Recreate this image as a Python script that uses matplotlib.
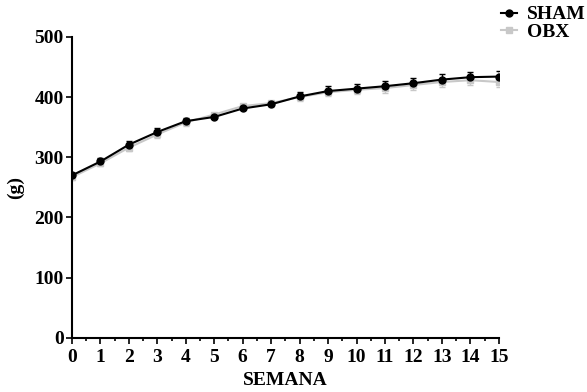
import numpy as np
import matplotlib
matplotlib.use('Agg')
from matplotlib import pyplot as plt
from matplotlib.lines import Line2D
from matplotlib.ticker import MultipleLocator

# body weight per week (mean and SEM)
weeks = np.arange(16)
sham_mean = [270, 293, 321, 342, 360, 367, 381, 388, 401, 410, 414, 418, 423, 429, 433, 434]
sham_sem = [4, 5, 6, 6, 6, 6, 6, 6, 7, 8, 8, 9, 9, 9, 9, 9]
obx_mean = [267, 290, 316, 338, 358, 371, 385, 390, 400, 408, 412, 415, 420, 425, 428, 425]
obx_sem = [4, 5, 6, 6, 6, 6, 6, 6, 7, 7, 7, 8, 8, 8, 8, 8]
y_ticks = [0, 100, 200, 300, 400, 500]

obx_color = '#c8c8c8'
font = {'family': 'Liberation Serif', 'weight': 'bold', 'size': 14}
plt.rcParams['font.family'] = ['Liberation Serif', 'DejaVu Serif']
plt.rcParams['font.weight'] = 'bold'

fig = plt.figure(figsize=(5.87, 3.92), dpi=100)
ax = fig.add_axes([0.1227, 0.138, 0.727, 0.768])

# OBX drawn first so SHAM sits on top
ax.errorbar(weeks, obx_mean, yerr=[obx_sem, np.zeros(len(obx_sem))], color=obx_color,
            marker='s', markersize=4.5, linewidth=1.5, capsize=2, elinewidth=1)
ax.errorbar(weeks, sham_mean, yerr=[np.zeros(len(sham_sem)), sham_sem], color='black',
            marker='o', markersize=5, linewidth=1.5, capsize=2, elinewidth=1)

ax.set_xlim(0, 15)
ax.set_ylim(0, 500)
ax.set_xticks(weeks)
ax.xaxis.set_minor_locator(MultipleLocator(0.5))
ax.set_yticks(y_ticks)
ax.tick_params(axis='both', which='major', length=4, width=1.2, pad=2)
ax.tick_params(axis='x', which='major', pad=4)
ax.tick_params(axis='x', which='minor', length=2.5, width=1.2)
for lbl in ax.get_xticklabels() + ax.get_yticklabels():
    lbl.set_fontproperties(font)

for side in ('top', 'right'):
    ax.spines[side].set_visible(False)
for side in ('left', 'bottom'):
    ax.spines[side].set_linewidth(1.5)
ax.patch.set_visible(False)

ax.set_xlabel('SEMANA', fontdict=font, labelpad=4)
ax.set_ylabel('(g)', fontdict=font, labelpad=7)

handles = [
    Line2D([], [], color='black', marker='o', markersize=5, linewidth=1.5),
    Line2D([], [], color=obx_color, marker='s', markersize=4.5, linewidth=1.5),
]
fig.legend(handles, ['SHAM', 'OBX'], loc='upper right', bbox_to_anchor=(1.027, 1.03),
           frameon=False, handlelength=0.8, handletextpad=0.5, labelspacing=0.0, prop=font)

fig.savefig('out.png', dpi=100)
